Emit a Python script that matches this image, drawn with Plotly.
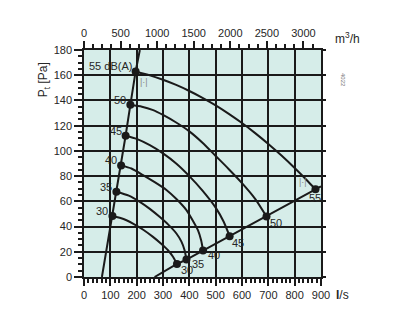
import plotly.graph_objects as go

# Airflow (l/s) and total pressure (Pa) values
levels = ["30", "35", "40", "45", "50", "55"]

# Sound-level curves: each runs from the steep system line to the shallow one
curve_q = {
    "30": [108, 150, 186, 225, 262, 292, 319, 338, 353],
    "35": [123, 170, 212, 250, 287, 320, 351, 370, 382, 389],
    "40": [141, 180, 224, 270, 313, 350, 389, 415, 433, 445, 452],
    "45": [158, 200, 250, 300, 350, 400, 450, 500, 530, 553],
    "50": [176, 220, 260, 300, 350, 400, 450, 500, 550, 600, 650, 693],
    "55": [196, 250, 300, 350, 400, 450, 500, 550, 600, 650, 700, 750, 800, 850, 879],
}
curve_p = {
    "30": [48.3, 46.0, 42.4, 37.5, 31.8, 26.5, 21.2, 16.0, 10.3],
    "35": [67.6, 64.5, 59.6, 54.0, 47.7, 41.5, 34.5, 28.0, 21.2, 13.8],
    "40": [88.5, 86.0, 80.8, 75.0, 69.0, 62.0, 53.0, 44.0, 37.0, 29.0, 21.0],
    "45": [112, 109.5, 104.5, 98.0, 90.0, 80.0, 68.5, 55.0, 44.0, 32.4],
    "50": [136.5, 135.0, 132.5, 128.5, 122.5, 115.5, 106.5, 96.0, 85.5, 74.5, 62.0, 48.0],
    "55": [163, 159.9, 156.4, 152.3, 147.5, 142.1, 136.1, 129.4, 122.1, 114.1, 105.5,
           96.3, 86.4, 75.9, 69.5],
}

# Steep and shallow system lines
sys_a_q = [68, 108, 123, 141, 158, 176, 196, 212]
sys_a_p = [0, 48.3, 67.6, 88.5, 112, 136.5, 163, 180]
sys_b_q = [268, 353, 389, 452, 552, 693, 879, 900]
sys_b_p = [0, 10.3, 13.8, 21.0, 32.4, 48.0, 69.5, 71.8]

# Operating points on both lines
pts_a_q = [108, 123, 141, 158, 176, 196]
pts_a_p = [48.3, 67.6, 88.5, 112, 136.5, 163]
pts_b_q = [353, 389, 452, 553, 693, 879]
pts_b_p = [10.3, 13.8, 21.0, 32.4, 48.0, 69.5]

x_ticks = [0, 100, 200, 300, 400, 500, 600, 700, 800, 900]
y_ticks = [0, 20, 40, 60, 80, 100, 120, 140, 160, 180]
top_ticks = [0, 500, 1000, 1500, 2000, 2500, 3000]

FONT = "Liberation Sans, Arial, sans-serif"
TXT = "#262626"
LINE = "#1a1a1a"

fig = go.Figure()

for lv in levels:
    fig.add_trace(go.Scatter(x=curve_q[lv], y=curve_p[lv], mode="lines",
                             line=dict(color=LINE, width=2, shape="spline", smoothing=0.6),
                             hoverinfo="skip", showlegend=False))

fig.add_trace(go.Scatter(x=sys_a_q, y=sys_a_p, mode="lines",
                         line=dict(color=LINE, width=2), showlegend=False))
fig.add_trace(go.Scatter(x=sys_b_q, y=sys_b_p, mode="lines",
                         line=dict(color=LINE, width=2), showlegend=False))
fig.add_trace(go.Scatter(x=pts_a_q + pts_b_q, y=pts_a_p + pts_b_p, mode="markers",
                         marker=dict(color=LINE, size=8), showlegend=False))

# Invisible trace on the top (m³/h) axis and on the right axis
fig.add_trace(go.Scatter(x=[0, 3240], y=[0, 0], xaxis="x2", yaxis="y",
                         mode="markers", marker=dict(opacity=0), hoverinfo="skip", showlegend=False))
fig.add_trace(go.Scatter(x=[0, 0], y=[0, 180], xaxis="x", yaxis="y2",
                         mode="markers", marker=dict(opacity=0), hoverinfo="skip", showlegend=False))

ann = []
left_text = ["30", "35", "40", "45", "50", "55 dB(A)"]
for q, p, t in zip(pts_a_q, pts_a_p, left_text):
    ann.append(dict(x=q, y=p, text=t, showarrow=False, xanchor="right", yanchor="middle",
                    xshift=-2, yshift=5, font=dict(size=11, color=TXT, family=FONT)))

right_shift = [(2, -6), (4, -4), (3, -4), (0, -7), (2, -7), (-8, -9)]
for q, p, t, (dx, dy) in zip(pts_b_q, pts_b_p, levels, right_shift):
    ann.append(dict(x=q, y=p, text=t, showarrow=False, xanchor="left", yanchor="middle",
                    xshift=dx, yshift=dy, font=dict(size=11, color=TXT, family=FONT)))

# Bracket markers beside the 55 dB(A) points
ann.append(dict(x=196, y=163, text="|·|", showarrow=False, xanchor="left", yanchor="top",
                xshift=2, yshift=-4, font=dict(size=9, color="#888888", family=FONT)))
ann.append(dict(x=879, y=69.5, text="|·|", showarrow=False, xanchor="right", yanchor="bottom",
                xshift=-6, yshift=0, font=dict(size=9, color="#888888", family=FONT)))

ann += [
    dict(xref="paper", yref="paper", x=-0.17, y=0.87, text="P<sub>t</sub> [Pa]", textangle=-90,
         showarrow=False, xanchor="center", yanchor="middle",
         font=dict(size=12, color=TXT, family=FONT)),
    dict(xref="paper", yref="paper", x=1.11, y=1.055, text="m<sup>3</sup>/h",
         showarrow=False, xanchor="center", yanchor="middle",
         font=dict(size=12, color=TXT, family=FONT)),
    dict(xref="paper", yref="paper", x=1.09, y=-0.08, text="<b>l</b>/s",
         showarrow=False, xanchor="center", yanchor="middle",
         font=dict(size=12, color=TXT, family=FONT)),
    dict(xref="paper", yref="paper", x=1.095, y=0.87, text="4022", textangle=90,
         showarrow=False, xanchor="center", yanchor="middle",
         font=dict(size=6, color="#777777", family=FONT)),
]

fig.update_layout(
    width=398, height=328,
    margin=dict(l=84, r=77, t=50, b=51),
    paper_bgcolor="white",
    plot_bgcolor="#d6ede9",
    font=dict(family=FONT, size=11, color=TXT),
    showlegend=False,
    annotations=ann,
    xaxis=dict(range=[0, 900], tickvals=x_ticks, ticks="outside", ticklen=7, tickwidth=1.5,
               tickcolor=LINE, showgrid=True, gridcolor=LINE, gridwidth=1.5,
               showline=True, linecolor=LINE, linewidth=1.5, zeroline=False,
               minor=dict(ticks="outside", ticklen=4, tickcolor=LINE, dtick=100 / 6,
                          tick0=0, showgrid=False),
               tickfont=dict(size=11, color=TXT), fixedrange=True),
    yaxis=dict(range=[0, 180], tickvals=y_ticks, ticks="outside", ticklen=8, tickwidth=1.5,
               tickcolor=LINE, showgrid=True, gridcolor=LINE, gridwidth=1.5,
               showline=True, linecolor=LINE, linewidth=1.5, zeroline=False,
               minor=dict(ticks="outside", ticklen=4, tickcolor=LINE, dtick=5, tick0=0,
                          showgrid=False),
               tickfont=dict(size=11, color=TXT), fixedrange=True),
    xaxis2=dict(range=[0, 3240], overlaying="x", side="top", anchor="y",
                tickvals=top_ticks, ticks="outside", ticklen=7, tickwidth=1.5, tickcolor=LINE,
                showgrid=False, showline=True, linecolor=LINE, linewidth=1.5, zeroline=False,
                minor=dict(ticks="outside", ticklen=4, tickcolor=LINE, dtick=125, tick0=0),
                tickfont=dict(size=11, color=TXT), fixedrange=True),
    yaxis2=dict(range=[0, 180], overlaying="y", side="right", anchor="x",
                tickvals=y_ticks, ticks="outside", ticklen=3, tickwidth=1.5, tickcolor=LINE,
                showticklabels=False, showgrid=False, showline=True, linecolor=LINE,
                linewidth=1.5, zeroline=False, fixedrange=True),
)

fig.write_html("out.html")
